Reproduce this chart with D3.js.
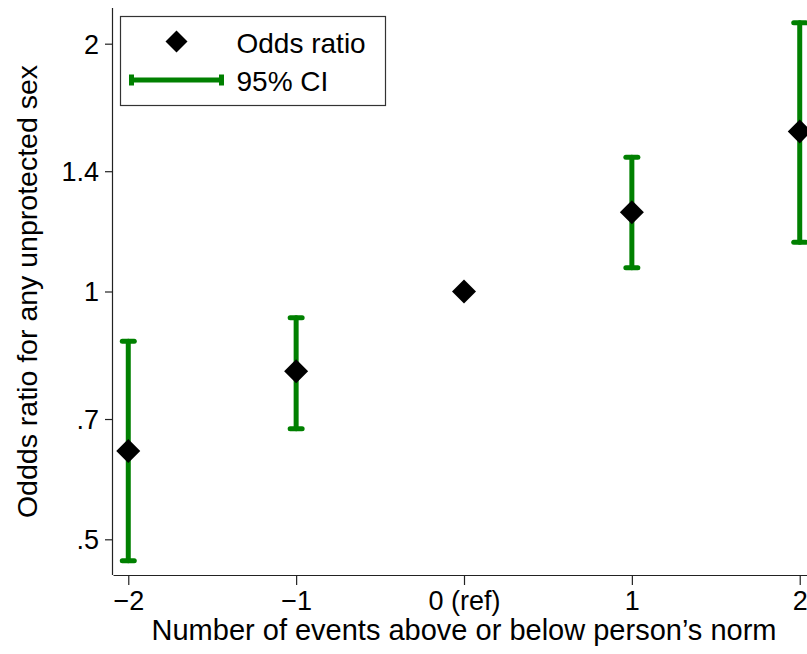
<!DOCTYPE html>
<html>
<head>
<meta charset="utf-8">
<script src="https://cdn.jsdelivr.net/npm/d3@7"></script>
<style>
body { margin: 0; background: #fff; }
svg { display: block; font-family: "Liberation Sans", Arial, Helvetica, sans-serif; }
</style>
</head>
<body>
<div id="chart"></div>
<script>
// values
var events = [-2, -1, 0, 1, 2];
var oddsRatio = [0.640, 0.800, 1.000, 1.248, 1.565];
var ciLow = [0.471, 0.681, null, 1.069, 1.148];
var ciHigh = [0.870, 0.929, null, 1.456, 2.12];
var xTickLabels = ["\u22122", "\u22121", "0 (ref)", "1", "2"];
var yTicks = [0.5, 0.7, 1, 1.4, 2];
var yTickLabels = [".5", ".7", "1", "1.4", "2"];

var svgWidth = 807, svgHeight = 654;
var margin = {top: 8, right: -8, bottom: 79, left: 113};
var width = svgWidth - margin.left - margin.right,
	height = svgHeight - margin.top - margin.bottom;

var green = "#008000";

var svg = d3.select("#chart").append("svg")
	.attr("width", svgWidth)
	.attr("height", svgHeight)
	.append("g")
	.attr("transform", "translate(" + margin.left + "," + margin.top + ")");

var x = d3.scaleLinear()
	.domain([-2.091, 2.091])
	.range([0, width]);

var y = d3.scaleLog()
	.domain([1 / 2.21, 2.21])
	.range([height, 0]);

// axes
var xAxis = svg.append("g")
	.attr("transform", "translate(0," + height + ")")
	.call(d3.axisBottom(x).tickValues(events).tickSize(10).tickPadding(5)
		.tickFormat(function(d, i) { return xTickLabels[i]; }));

var yAxis = svg.append("g")
	.call(d3.axisLeft(y).tickValues(yTicks).tickSize(8).tickPadding(6)
		.tickFormat(function(d, i) { return yTickLabels[i]; }));

[xAxis, yAxis].forEach(function(a) {
	a.select(".domain").attr("stroke", "#222").attr("stroke-width", 1.2);
	a.selectAll(".tick line").attr("stroke", "#222").attr("stroke-width", 1.2);
	a.selectAll(".tick text")
		.attr("fill", "#000")
		.attr("font-size", 27)
		.attr("font-family", "Liberation Sans, Arial, sans-serif");
});
// keep only the axis line, no outer ticks
xAxis.select(".domain").attr("d", "M0.5,0.5H" + width);
yAxis.select(".domain").attr("d", "M-0.5," + height + "V0");
yAxis.selectAll(".tick text").attr("dy", "0.35em");
xAxis.selectAll(".tick text").attr("dy", "0.74em");

// error bars
var ci = events.map(function(e, i) {
	return {e: e, lo: ciLow[i], hi: ciHigh[i]};
}).filter(function(d) { return d.lo != null; });

var bars = svg.append("g")
	.attr("stroke", green)
	.attr("stroke-width", 5)
	.attr("stroke-linecap", "round");

bars.selectAll(".stem")
	.data(ci)
	.enter().append("line")
	.attr("x1", function(d) { return x(d.e); })
	.attr("x2", function(d) { return x(d.e); })
	.attr("y1", function(d) { return y(d.lo); })
	.attr("y2", function(d) { return y(d.hi); });

bars.selectAll(".capLo")
	.data(ci)
	.enter().append("line")
	.attr("x1", function(d) { return x(d.e) - 6; })
	.attr("x2", function(d) { return x(d.e) + 6; })
	.attr("y1", function(d) { return y(d.lo); })
	.attr("y2", function(d) { return y(d.lo); });

bars.selectAll(".capHi")
	.data(ci)
	.enter().append("line")
	.attr("x1", function(d) { return x(d.e) - 6; })
	.attr("x2", function(d) { return x(d.e) + 6; })
	.attr("y1", function(d) { return y(d.hi); })
	.attr("y2", function(d) { return y(d.hi); });

// diamonds
var diamond = "M0,-12L12,0L0,12L-12,0Z";
svg.selectAll(".pt")
	.data(events)
	.enter().append("path")
	.attr("d", diamond)
	.attr("fill", "#000")
	.attr("transform", function(d, i) {
		return "translate(" + x(d) + "," + y(oddsRatio[i]) + ")";
	});

// axis titles
svg.append("text")
	.attr("x", (152 + 776) / 2 - margin.left)
	.attr("y", height + 65)
	.attr("text-anchor", "middle")
	.attr("font-size", 29)
	.text("Number of events above or below person\u2019s norm");

svg.append("text")
	.attr("transform", "translate(" + (37 - margin.left) + "," + y(1) + ") rotate(-90)")
	.attr("text-anchor", "middle")
	.attr("font-size", 28.5)
	.text("Oddds ratio for any unprotected sex");

// legend
var legend = svg.append("g")
	.attr("transform", "translate(" + (120.5 - margin.left) + "," + (16.5 - margin.top) + ")");

legend.append("rect")
	.attr("width", 265)
	.attr("height", 89)
	.attr("fill", "#fff")
	.attr("stroke", "#333")
	.attr("stroke-width", 1.2);

legend.append("path")
	.attr("d", "M0,-11L11,0L0,11L-11,0Z")
	.attr("fill", "#000")
	.attr("transform", "translate(56,25)");

legend.append("line")
	.attr("x1", 11).attr("x2", 101)
	.attr("y1", 63.5).attr("y2", 63.5)
	.attr("stroke", green).attr("stroke-width", 5);
[11, 101].forEach(function(px) {
	legend.append("line")
		.attr("x1", px).attr("x2", px)
		.attr("y1", 58).attr("y2", 69)
		.attr("stroke", green).attr("stroke-width", 5);
});

legend.append("text")
	.attr("x", 116).attr("y", 36)
	.attr("font-size", 28)
	.text("Odds ratio");
legend.append("text")
	.attr("x", 116).attr("y", 74)
	.attr("font-size", 28)
	.text("95% CI");
</script>
</body>
</html>
